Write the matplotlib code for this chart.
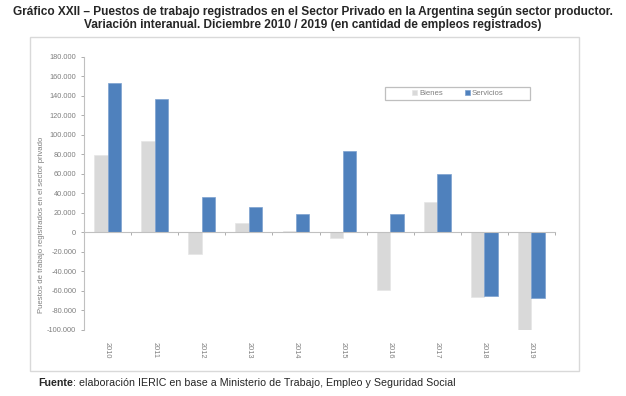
import matplotlib.pyplot as plt
from matplotlib.patches import Rectangle
import numpy as np

plt.rcParams["font.family"] = ["Liberation Sans", "DejaVu Sans"]

years = ["2010", "2011", "2012", "2013", "2014", "2015", "2016", "2017", "2018", "2019"]
bienes = [79000, 94000, -22000, 10000, 1700, -5500, -59000, 30700, -65900, -100300]
servicios = [153000, 137000, 36500, 26000, 18800, 83000, 18800, 59400, -64800, -66900]
yticks = list(range(-100000, 180001, 20000))

gray_txt = "#7f7f7f"
c_bienes = "#d9d9d9"
c_serv = "#4f81bd"

fig = plt.figure(figsize=(6.26, 3.96), dpi=100)
ax = fig.add_axes([84 / 626, 1 - 330 / 396, (555 - 84) / 626, (330 - 56.5) / 396])

# outer chart frame
fig.patches.append(Rectangle((30 / 626, 1 - 371 / 396), (579 - 30) / 626, (371 - 37) / 396,
                             transform=fig.transFigure, fill=False, edgecolor="#d9d9d9", lw=1))
# legend frame
fig.patches.append(Rectangle((385 / 626, 1 - 100 / 396), (530 - 385) / 626, 13 / 396,
                             transform=fig.transFigure, fill=True, facecolor="white",
                             edgecolor="#bfbfbf", lw=0.9, zorder=5))

x = np.arange(len(years))
w = 0.285
ax.bar(x - w / 2, bienes, w, color=c_bienes, edgecolor="#e6e6e6", lw=0.5, label="Bienes")
ax.bar(x + w / 2, servicios, w, color=c_serv, edgecolor="#7da1d0", lw=0.5, label="Servicios")

ax.set_xlim(-0.5, len(years) - 0.5)
ax.set_ylim(-100000, 180000)
ax.set_yticks(yticks)
ax.set_yticklabels([f"{v:,}".replace(",", ".") for v in yticks], fontsize=5.3, color=gray_txt)
ax.tick_params(axis="y", length=2.5, width=0.6, color="#a0a0a0", pad=3)

# category axis on zero, tick marks between categories
ax.spines["bottom"].set_position(("data", 0))
ax.spines["bottom"].set_color("#c0c0c0")
ax.spines["left"].set_color("#c0c0c0")
ax.spines["top"].set_visible(False)
ax.spines["right"].set_visible(False)
ax.set_xticks(np.arange(-0.5, len(years)))
ax.set_xticklabels([])
ax.tick_params(axis="x", length=2.5, width=0.6, color="#a0a0a0")
for i, yr in enumerate(years):
    ax.text(i, -0.045, yr, rotation=270, ha="center", va="top", fontsize=5.3,
            color=gray_txt, transform=ax.get_xaxis_transform())

fig.text(42 / 626, 1 - 225 / 396, "Puestos de trabajo registrados en el sector privado",
         rotation=90, ha="center", va="center", fontsize=5.6, color=gray_txt)

leg = fig.legend(*ax.get_legend_handles_labels(), loc="center",
                 bbox_to_anchor=(458 / 626, 1 - 93.5 / 396), ncol=2, fontsize=5.6,
                 frameon=False, handlelength=0.6, handleheight=0.6, handletextpad=0.3,
                 columnspacing=2.8, borderpad=0.2, labelcolor=gray_txt)
leg.set_zorder(6)

fig.text(0.5, 1 - 12 / 396, "Gráfico XXII – Puestos de trabajo registrados en el Sector Privado en la Argentina según sector productor.",
         ha="center", va="center", fontsize=8.6, fontweight="bold", color="#262626")
fig.text(0.5, 1 - 25 / 396, "Variación interanual. Diciembre 2010 / 2019 (en cantidad de empleos registrados)",
         ha="center", va="center", fontsize=8.6, fontweight="bold", color="#262626")

fig.text(38 / 626, 1 - 383 / 396, "Fuente", ha="left", va="center", fontsize=7.7,
         fontweight="bold", color="#262626")
fig.text(73 / 626, 1 - 383 / 396, ": elaboración IERIC en base a Ministerio de Trabajo, Empleo y Seguridad Social",
         ha="left", va="center", fontsize=7.7, color="#262626")

fig.savefig("out.png", dpi=100)
